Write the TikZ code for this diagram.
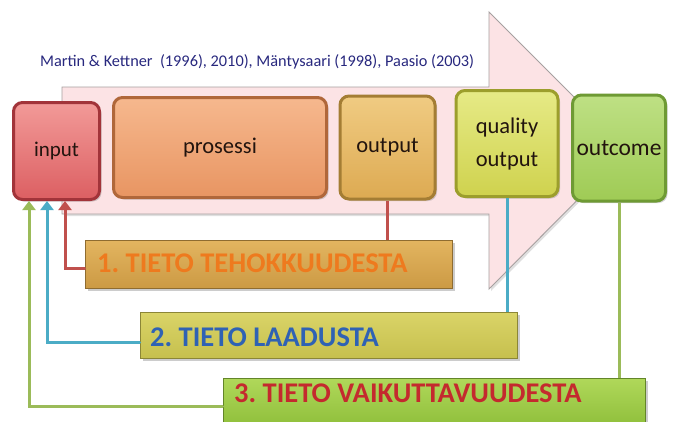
\documentclass[tikz,border=0pt]{standalone}
\usepackage{fontspec}
\setmainfont{Carlito}
\usetikzlibrary{arrows.meta,shadows,calc}
\definecolor{arrowfill}{HTML}{FCE3E5}
\definecolor{arrowline}{HTML}{A6A0A0}
\definecolor{citec}{HTML}{28287E}
\definecolor{inTop}{HTML}{F29A98}\definecolor{inBot}{HTML}{DC5F62}\definecolor{inLine}{HTML}{A2343A}
\definecolor{prTop}{HTML}{F6B88E}\definecolor{prBot}{HTML}{E89562}\definecolor{prLine}{HTML}{B0673A}
\definecolor{ouTop}{HTML}{F0CB82}\definecolor{ouBot}{HTML}{DDAA52}\definecolor{ouLine}{HTML}{A47D34}
\definecolor{quTop}{HTML}{E6EA86}\definecolor{quBot}{HTML}{CFD24E}\definecolor{quLine}{HTML}{9C9E2C}
\definecolor{ocTop}{HTML}{BEE084}\definecolor{ocBot}{HTML}{9FCB55}\definecolor{ocLine}{HTML}{6E9A34}
\definecolor{bOneTop}{HTML}{E3B560}\definecolor{bOneBot}{HTML}{CC9A44}\definecolor{bOneTxt}{HTML}{EE7A1E}
\definecolor{bTwoTop}{HTML}{DAD468}\definecolor{bTwoBot}{HTML}{C6C04E}\definecolor{bTwoTxt}{HTML}{2F62B4}
\definecolor{bThrTop}{HTML}{B0D85A}\definecolor{bThrBot}{HTML}{8EBE3A}\definecolor{bThrTxt}{HTML}{C42A2E}
\definecolor{conRed}{HTML}{C0504D}
\definecolor{conBlue}{HTML}{4BACC6}
\definecolor{conGreen}{HTML}{9BBB59}
\definecolor{labtxt}{HTML}{22140E}
\frenchspacing
\begin{document}
\begin{tikzpicture}[x=1pt,y=-1pt,
  stage/.style={draw, line width=3pt, rounded corners=9pt, inner sep=0pt,
    text=labtxt, align=center,
    drop shadow={shadow xshift=2pt, shadow yshift=-2pt, opacity=0.35}},
  infobox/.style={draw=#1!70!black, line width=0.8pt, inner sep=0pt,
    drop shadow={shadow xshift=2.5pt, shadow yshift=-3pt, opacity=0.4}},
  infotext/.style={font=\fontsize{28.5}{30}\selectfont\bfseries, inner sep=0pt},
  feedback/.style={line width=3pt, line cap=round, -{Triangle[length=9pt,width=13pt]}},
  link/.style={line width=3pt}
]
\useasboundingbox (0,0) rectangle (673,421);

% big background arrow
\path[fill=arrowfill, draw=arrowline, line width=0.9pt,
      drop shadow={shadow xshift=2pt, shadow yshift=-2pt, opacity=0.25}]
  (62,87) -- (489,87) -- (489,12) -- (627,150) -- (489,289) -- (489,214) -- (62,214) -- cycle;

\node[anchor=west, text=citec, font=\fontsize{16.3}{18}\selectfont, inner sep=0pt] (cite)
  at (40,62) {Martin \& Kettner\ \ (1996), 2010), Mäntysaari (1998), Paasio (2003)};

% process stages
\node[stage, draw=inLine, top color=inTop, bottom color=inBot,
      minimum width=86pt, minimum height=97pt, font=\fontsize{21}{23}\selectfont]
  (input) at (56.5,151) {input};
\node[stage, draw=prLine, top color=prTop, bottom color=prBot,
      minimum width=213pt, minimum height=100pt, font=\fontsize{22.5}{24}\selectfont]
  (prosessi) at (220,147.5) {prosessi};
\node[stage, draw=ouLine, top color=ouTop, bottom color=ouBot,
      minimum width=95pt, minimum height=103pt, font=\fontsize{22.5}{24}\selectfont]
  (output) at (387.5,147.5) {output};
\node[stage, draw=quLine, top color=quTop, bottom color=quBot,
      minimum width=102pt, minimum height=106pt, font=\fontsize{22.5}{33}\selectfont]
  (quality) at (507,143.5) {quality\\output};
\node[stage, draw=ocLine, top color=ocTop, bottom color=ocBot,
      minimum width=93pt, minimum height=106pt, font=\fontsize{23.5}{25}\selectfont]
  (outcome) at (619,148) {outcome};

% information boxes
\node[infobox=bOneBot, top color=bOneTop, bottom color=bOneBot,
      minimum width=367pt, minimum height=48pt] (box1) at (268.5,264) {};
\node[infobox=bTwoBot, top color=bTwoTop, bottom color=bTwoBot,
      minimum width=377pt, minimum height=46pt] (box2) at (328.5,335) {};
\node[infobox=bThrBot, top color=bThrTop, bottom color=bThrBot,
      minimum width=422pt, minimum height=50pt] (box3) at (434,403) {};

\node[infotext, text=bOneTxt, anchor=west] (t1) at (97,263) {1. TIETO TEHOKKUUDESTA};
\node[infotext, text=bTwoTxt, anchor=west] (t2) at (150,337) {2. TIETO LAADUSTA};
\node[infotext, text=bThrTxt, anchor=west] (t3) at (234,393) {3. TIETO VAIKUTTAVUUDESTA};

% connectors
\coordinate (inR) at ($(input.south west)+(53,0)$);
\coordinate (inB) at ($(input.south west)+(35,0)$);
\coordinate (inG) at ($(input.south west)+(17,0)$);
\coordinate (b1L) at ($(box1.west)+(0,4)$);
\coordinate (b2L) at ($(box2.west)+(0,7)$);
\coordinate (b3L) at ($(box3.north west)+(0,29)$);

\draw[link, conRed] (output.south) -- (output.south |- box1.north);
\draw[link, conBlue] (quality.south) -- (quality.south |- box2.north);
\draw[link, conGreen] (outcome.south) -- (outcome.south |- box3.north);

\draw[feedback, conRed] (b1L) -| (inR);
\draw[feedback, conBlue] (b2L) -| (inB);
\draw[feedback, conGreen] (b3L) -| (inG);
\end{tikzpicture}
\end{document}
